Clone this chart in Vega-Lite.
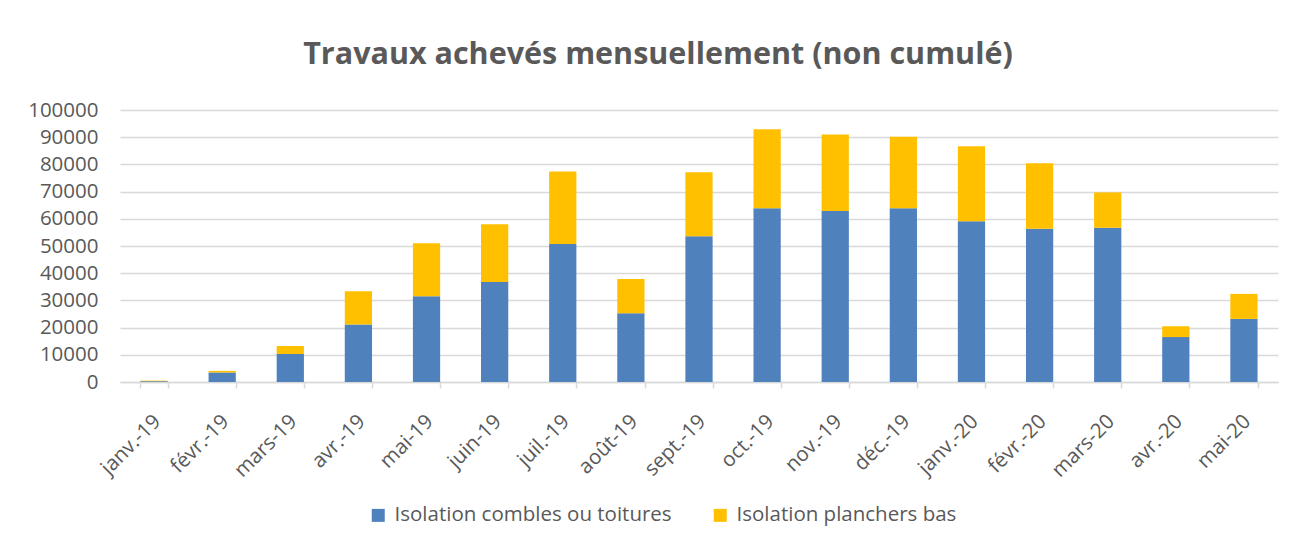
{
  "$schema": "https://vega.github.io/schema/vega-lite/v6.json",
  "autosize": {"type": "none"},
  "width": 1158,
  "height": 272,
  "padding": {"left": 120, "top": 110, "right": 18, "bottom": 163},
  "background": "white",
  "title": {
    "text": "Travaux achevés mensuellement (non cumulé)",
    "font": "Open Sans",
    "fontSize": 30.5,
    "fontWeight": "bold",
    "color": "#595959",
    "anchor": "middle",
    "frame": "group",
    "dx": -41,
    "offset": 30
  },
  "data": {
    "values": [
      {"mois": "janv.-19", "serie": "Isolation combles ou toitures", "o": 1, "v": 300},
      {"mois": "janv.-19", "serie": "Isolation planchers bas", "o": 2, "v": 200},
      {"mois": "févr.-19", "serie": "Isolation combles ou toitures", "o": 1, "v": 3500},
      {"mois": "févr.-19", "serie": "Isolation planchers bas", "o": 2, "v": 600},
      {"mois": "mars-19", "serie": "Isolation combles ou toitures", "o": 1, "v": 10300},
      {"mois": "mars-19", "serie": "Isolation planchers bas", "o": 2, "v": 2950},
      {"mois": "avr.-19", "serie": "Isolation combles ou toitures", "o": 1, "v": 21100},
      {"mois": "avr.-19", "serie": "Isolation planchers bas", "o": 2, "v": 12300},
      {"mois": "mai-19", "serie": "Isolation combles ou toitures", "o": 1, "v": 31500},
      {"mois": "mai-19", "serie": "Isolation planchers bas", "o": 2, "v": 19500},
      {"mois": "juin-19", "serie": "Isolation combles ou toitures", "o": 1, "v": 36800},
      {"mois": "juin-19", "serie": "Isolation planchers bas", "o": 2, "v": 21200},
      {"mois": "juil.-19", "serie": "Isolation combles ou toitures", "o": 1, "v": 50700},
      {"mois": "juil.-19", "serie": "Isolation planchers bas", "o": 2, "v": 26700},
      {"mois": "août-19", "serie": "Isolation combles ou toitures", "o": 1, "v": 25300},
      {"mois": "août-19", "serie": "Isolation planchers bas", "o": 2, "v": 12600},
      {"mois": "sept.-19", "serie": "Isolation combles ou toitures", "o": 1, "v": 53600},
      {"mois": "sept.-19", "serie": "Isolation planchers bas", "o": 2, "v": 23500},
      {"mois": "oct.-19", "serie": "Isolation combles ou toitures", "o": 1, "v": 63900},
      {"mois": "oct.-19", "serie": "Isolation planchers bas", "o": 2, "v": 29000},
      {"mois": "nov.-19", "serie": "Isolation combles ou toitures", "o": 1, "v": 62900},
      {"mois": "nov.-19", "serie": "Isolation planchers bas", "o": 2, "v": 28100},
      {"mois": "déc.-19", "serie": "Isolation combles ou toitures", "o": 1, "v": 63900},
      {"mois": "déc.-19", "serie": "Isolation planchers bas", "o": 2, "v": 26300},
      {"mois": "janv.-20", "serie": "Isolation combles ou toitures", "o": 1, "v": 59100},
      {"mois": "janv.-20", "serie": "Isolation planchers bas", "o": 2, "v": 27600},
      {"mois": "févr.-20", "serie": "Isolation combles ou toitures", "o": 1, "v": 56300},
      {"mois": "févr.-20", "serie": "Isolation planchers bas", "o": 2, "v": 24100},
      {"mois": "mars-20", "serie": "Isolation combles ou toitures", "o": 1, "v": 56700},
      {"mois": "mars-20", "serie": "Isolation planchers bas", "o": 2, "v": 13000},
      {"mois": "avr.-20", "serie": "Isolation combles ou toitures", "o": 1, "v": 16500},
      {"mois": "avr.-20", "serie": "Isolation planchers bas", "o": 2, "v": 4000},
      {"mois": "mai-20", "serie": "Isolation combles ou toitures", "o": 1, "v": 23200},
      {"mois": "mai-20", "serie": "Isolation planchers bas", "o": 2, "v": 9200}
    ]
  },
  "mark": {"type": "bar"},
  "encoding": {
    "x": {
      "field": "mois",
      "type": "nominal",
      "sort": null,
      "scale": {"paddingInner": 0.6, "paddingOuter": 0.3},
      "axis": {
        "title": null,
        "labelAngle": -45,
        "labelFont": "Open Sans",
        "labelFontSize": 20.5,
        "labelColor": "#595959",
        "labelPadding": 23,
        "labelOffset": -4,
        "domainColor": "#D9D9D9",
        "domainWidth": 1.5,
        "tickColor": "#D9D9D9",
        "tickWidth": 1.5,
        "tickSize": 6,
        "tickBand": "extent",
        "grid": false
      }
    },
    "y": {
      "field": "v",
      "type": "quantitative",
      "stack": "zero",
      "scale": {"domain": [0, 100000], "nice": false},
      "axis": {
        "title": null,
        "values": [0, 10000, 20000, 30000, 40000, 50000, 60000, 70000, 80000, 90000, 100000],
        "format": "d",
        "labelFont": "Open Sans",
        "labelFontSize": 20.5,
        "labelColor": "#595959",
        "labelPadding": 22,
        "domain": false,
        "ticks": false,
        "grid": true,
        "gridColor": "#D9D9D9",
        "gridWidth": 1.5
      }
    },
    "color": {
      "field": "serie",
      "type": "nominal",
      "scale": {
        "domain": ["Isolation combles ou toitures", "Isolation planchers bas"],
        "range": ["#4F81BD", "#FFC000"]
      },
      "legend": {
        "title": null,
        "orient": "none",
        "legendX": 248,
        "legendY": 395,
        "direction": "horizontal",
        "symbolType": "square",
        "symbolSize": 169,
        "symbolStrokeWidth": 0,
        "labelFont": "Open Sans",
        "labelFontSize": 20.5,
        "labelColor": "#595959",
        "labelLimit": 0,
        "labelOffset": 6,
        "columnPadding": 38
      }
    },
    "order": {"field": "o", "type": "quantitative"}
  },
  "config": {
    "view": {"stroke": null}
  }
}
